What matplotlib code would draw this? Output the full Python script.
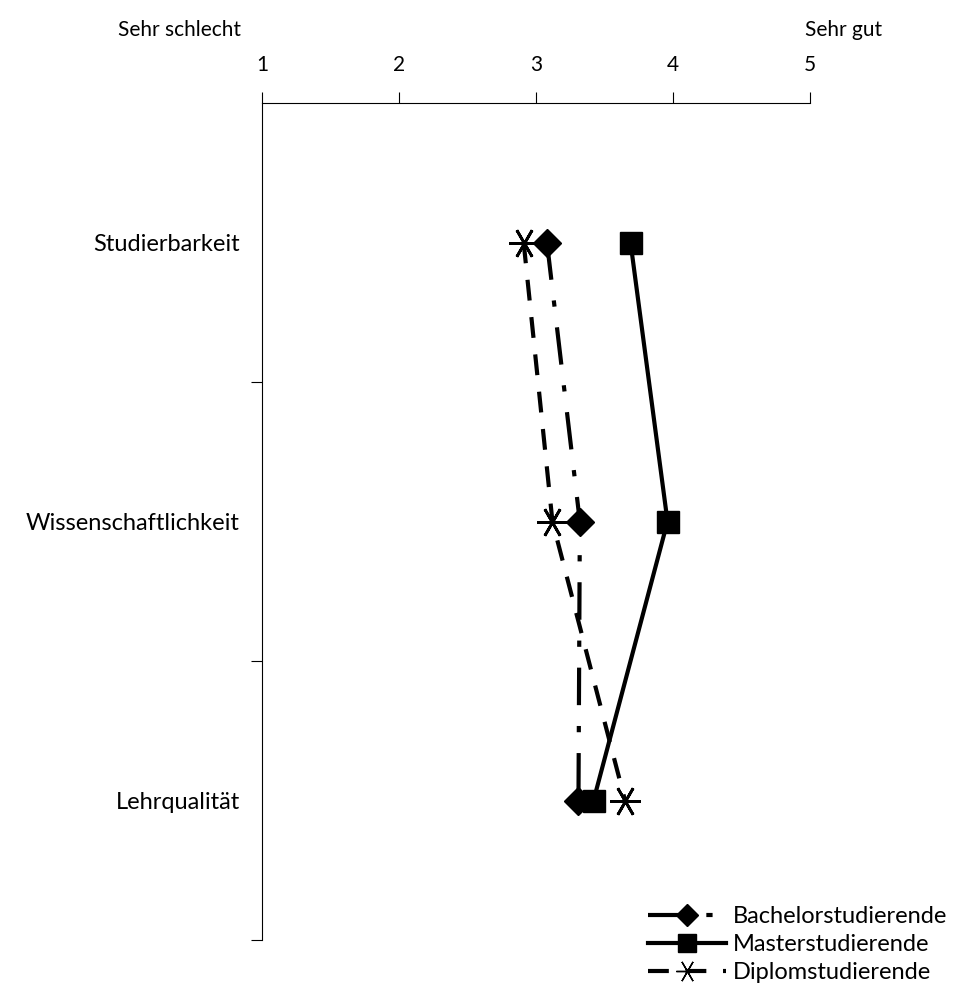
import matplotlib.pyplot as plt
from matplotlib.lines import Line2D

plt.rcParams['font.family'] = ['Lato', 'DejaVu Sans']

kategorien = ['Studierbarkeit', 'Wissenschaftlichkeit', 'Lehrqualität']
bachelor = [3.08, 3.32, 3.31]
master = [3.69, 3.96, 3.42]
diplom = [2.91, 3.12, 3.65]
skala = [1, 2, 3, 4, 5]

fig = plt.figure(figsize=(9.59, 9.85), dpi=100)
ax = fig.add_axes([262 / 959, 1 - 940 / 985, 548 / 959, 837 / 985])

pos = [0.5, 1.5, 2.5]
stern = (6, 2, 90)
ax.plot(bachelor, pos, color='black', lw=3, dashes=(9, 5, 1.5, 5),
        marker='D', markersize=14, label='Bachelorstudierende')
ax.plot(master, pos, color='black', lw=3, linestyle='-',
        marker='s', markersize=16, label='Masterstudierende')
ax.plot(diplom, pos, color='black', lw=3, dashes=(5, 4),
        marker=stern, markersize=22, markeredgewidth=2,
        label='Diplomstudierende')

ax.set_xlim(1, 5)
ax.set_ylim(3, 0)
ax.xaxis.tick_top()
ax.set_xticks(skala)
ax.set_xticklabels([str(s) for s in skala])
ax.tick_params(axis='x', direction='out', length=8, pad=12, labelsize=15)
ax.set_yticks([1, 2, 3])
ax.set_yticks(pos, minor=True)
ax.set_yticklabels(kategorien, minor=True)
ax.set_yticklabels([])
ax.tick_params(axis='y', which='major', direction='out', length=8)
ax.tick_params(axis='y', which='minor', length=0, pad=16, labelsize=17)

for s in ['right', 'bottom']:
    ax.spines[s].set_visible(False)

fig.text(118 / 959, 1 - 30 / 985, 'Sehr schlecht', fontsize=15, va='center', ha='left')
fig.text(805 / 959, 1 - 30 / 985, 'Sehr gut', fontsize=15, va='center', ha='left')

handles = [
    Line2D([], [], color='black', lw=3, dashes=(9, 5, 1.5, 5), marker='D', markersize=11),
    Line2D([], [], color='black', lw=3, marker='s', markersize=13),
    Line2D([], [], color='black', lw=3, dashes=(5, 4), marker=stern, markersize=16, markeredgewidth=1),
]
fig.legend(handles, ['Bachelorstudierende', 'Masterstudierende', 'Diplomstudierende'],
           loc='lower right', bbox_to_anchor=(1.01, -0.02), frameon=False, fontsize=17,
           handlelength=3.3, handletextpad=0.3, labelspacing=0.3)

fig.savefig('out.png', dpi=100)
